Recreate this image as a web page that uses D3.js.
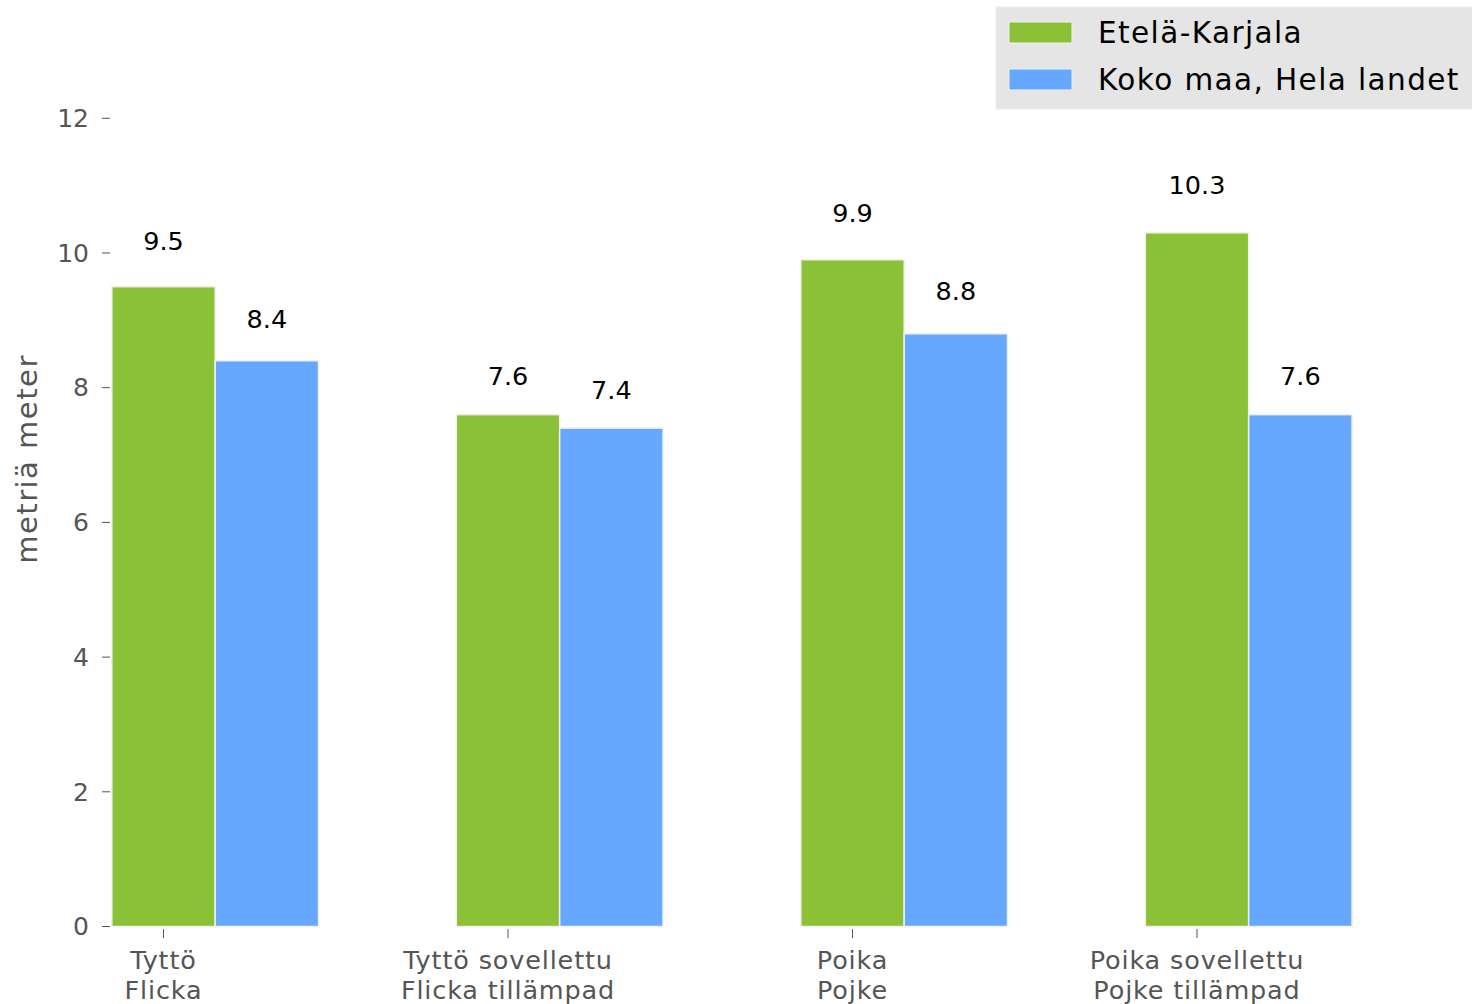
<!DOCTYPE html>
<html><head><meta charset="utf-8">
<script src="https://cdn.jsdelivr.net/npm/d3@7"></script>
<style>body{margin:0;background:#fff;} svg{display:block;font-family:"DejaVu Sans",sans-serif;}</style>
</head><body>
<svg id="c" width="1472" height="1004"></svg>
<script>
const categoriesLine1 = ["Tyttö", "Tyttö sovellettu", "Poika", "Poika sovellettu"];
const categoriesLine2 = ["Flicka", "Flicka tillämpad", "Pojke", "Pojke tillämpad"];
const seriesNames = ["Etelä-Karjala", "Koko maa, Hela landet"];
const seriesColors = ["#8bc136", "#66a8ff"];
const valuesEtelaKarjala = [9.5, 7.6, 9.9, 10.3];
const valuesKokoMaa = [8.4, 7.4, 8.8, 7.6];
const yTicks = [0, 2, 4, 6, 8, 10, 12];
const yLabel = "metriä meter";

const svg = d3.select("#c");
const y = d3.scaleLinear().domain([0, 12]).range([926.5, 118.3]);
const x = d3.scaleLinear().domain([0, 3]).range([163.5, 1197]);
const bw = 0.3;
const series = [valuesEtelaKarjala, valuesKokoMaa];

// bars
series.forEach((vals, s) => {
  const off = s === 0 ? -0.15 : 0.15;
  svg.append("g").selectAll("rect").data(vals).join("rect")
    .attr("x", (d, i) => x(i + off))
    .attr("width", (d, i) => x(i + off + bw) - x(i + off))
    .attr("y", d => y(d))
    .attr("height", d => y(0) - y(d))
    .attr("fill", seriesColors[s])
    .attr("stroke", "#f0f0f0").attr("stroke-width", 1.5);
  svg.append("g").selectAll("text").data(vals).join("text")
    .attr("x", (d, i) => x(i + off + bw / 2))
    .attr("y", d => y(d * 1.05) - 4.5)
    .attr("text-anchor", "middle")
    .attr("font-size", 25.5).attr("fill", "#000")
    .text(d => d.toFixed(1));
});

// y axis ticks
const yg = svg.append("g");
yTicks.forEach(t => {
  yg.append("line").attr("x1", 102).attr("x2", 110).attr("y1", y(t)).attr("y2", y(t))
    .attr("stroke", "#555").attr("stroke-width", 1);
  yg.append("text").attr("x", 89).attr("y", y(t)).attr("dy", "0.35em")
    .attr("text-anchor", "end").attr("font-size", 25).attr("fill", "#555").text(t);
});
svg.append("text").attr("transform", `translate(37,${459}) rotate(-90)`)
  .attr("text-anchor", "middle").attr("font-size", 29).attr("letter-spacing", 1.5)
  .attr("fill", "#555").text(yLabel);

// x axis ticks
const xg = svg.append("g");
categoriesLine1.forEach((c, i) => {
  xg.append("line").attr("x1", x(i)).attr("x2", x(i)).attr("y1", 929).attr("y2", 938)
    .attr("stroke", "#555").attr("stroke-width", 1);
  const t = xg.append("text").attr("text-anchor", "middle").attr("font-size", 25.5)
    .attr("letter-spacing", 0.85).attr("fill", "#555");
  t.append("tspan").attr("x", x(i)).attr("y", 969).text(c);
  t.append("tspan").attr("x", x(i)).attr("y", 999).text(categoriesLine2[i]);
});

// legend
const lg = svg.append("g");
lg.append("rect").attr("x", 996).attr("y", 7).attr("width", 480).attr("height", 102)
  .attr("fill", "#e5e5e5").attr("stroke", "#eeeeee");
seriesNames.forEach((n, i) => {
  lg.append("rect").attr("x", 1009).attr("y", 22 + i * 47).attr("width", 63).attr("height", 21)
    .attr("fill", seriesColors[i]).attr("stroke", "#f0f0f0");
  lg.append("text").attr("x", 1098).attr("y", 43 + i * 47).attr("font-size", 29.5)
    .attr("letter-spacing", 1.4).attr("fill", "#000").text(n);
});
</script>
</body></html>
